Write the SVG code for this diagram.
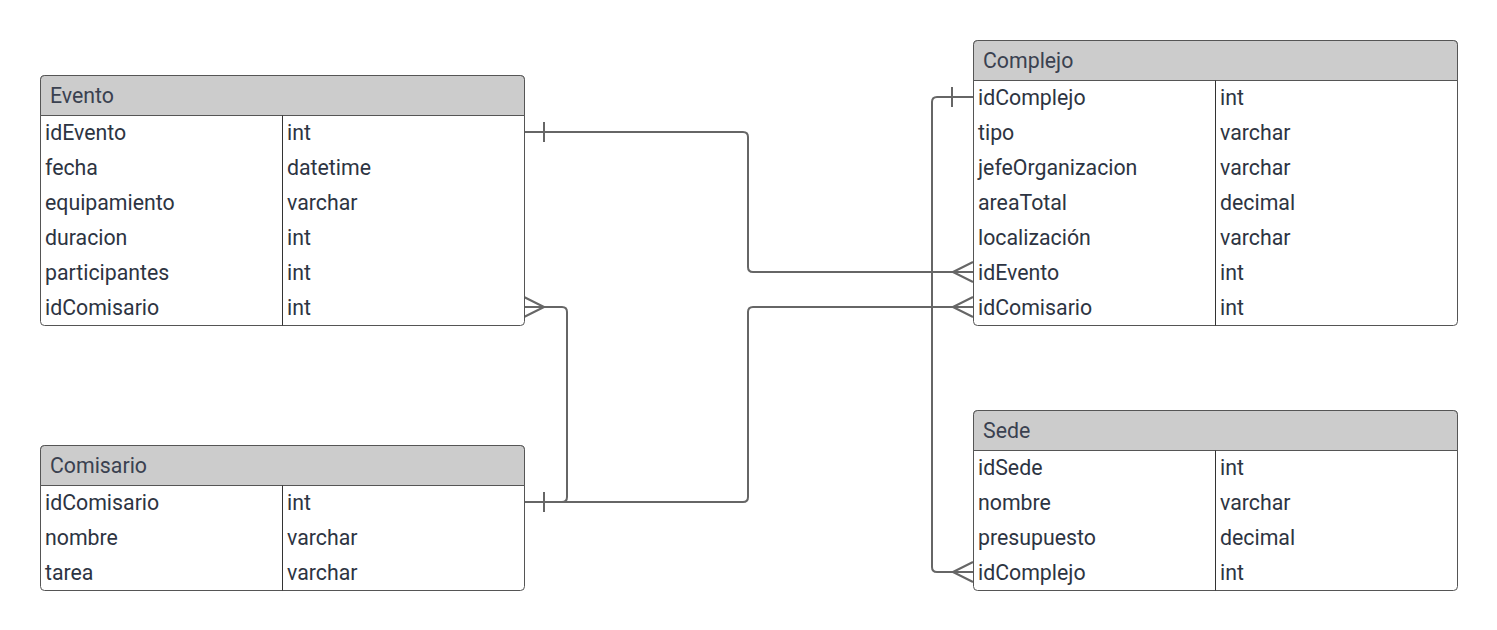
<svg xmlns="http://www.w3.org/2000/svg" width="1497" height="630" viewBox="0 0 1497 630">
  <style>
    .box { fill: #ffffff; stroke: #555555; stroke-width: 1; }
    .head { fill: #cccccc; stroke: #555555; stroke-width: 1; }
    .sep { stroke: #333333; stroke-width: 1; fill: none; }
    .title { font-family: Roboto, "Liberation Sans", sans-serif; font-size: 21.3px; fill: #3a4150; }
    .cell { font-family: Roboto, "Liberation Sans", sans-serif; font-size: 21.3px; fill: #2d3442; }
    .link { fill: none; stroke: #666666; stroke-width: 2; }
  </style>
  <rect width="1497" height="630" fill="#ffffff"/>

  <!-- relationships -->
  <g id="connectors">
    <!-- Evento.idEvento 1 — N Complejo.idEvento -->
    <path class="link" d="M524,132 H743 Q748,132 748,137 V267 Q748,272 753,272 H973"/>
    <path class="link" d="M544,122 V142"/>
    <path class="link" d="M953,272 L973,262 M953,272 L973,282"/>
    <!-- Comisario.idComisario 1 — N Evento.idComisario -->
    <path class="link" d="M524,502 H562 Q567,502 567,497 V312 Q567,307 562,307 H524"/>
    <path class="link" d="M544,307 L524,297 M544,307 L524,317"/>
    <path class="link" d="M544,492 V512"/>
    <!-- Comisario.idComisario 1 — N Complejo.idComisario -->
    <path class="link" d="M524,502 H743 Q748,502 748,497 V312 Q748,307 753,307 H973"/>
    <path class="link" d="M953,307 L973,297 M953,307 L973,317"/>
    <!-- Complejo.idComplejo 1 — N Sede.idComplejo -->
    <path class="link" d="M973,97 H937 Q932,97 932,102 V567 Q932,572 937,572 H973"/>
    <path class="link" d="M952,87 V107"/>
    <path class="link" d="M953,572 L973,562 M953,572 L973,582"/>
  </g>

  <g id="Evento">
    <rect class="box" x="40.5" y="75.5" width="484" height="250" rx="4"/>
    <path class="head" d="M40.5,115.5 V79.5 Q40.5,75.5 44.5,75.5 H520.5 Q524.5,75.5 524.5,79.5 V115.5 Z"/>
    <line class="sep" x1="282.5" y1="115.5" x2="282.5" y2="325.5"/>
    <text class="title" x="50" y="103">Evento</text>
    <text class="cell" x="45" y="140">idEvento</text><text class="cell" x="287" y="140">int</text>
    <text class="cell" x="45" y="175">fecha</text><text class="cell" x="287" y="175">datetime</text>
    <text class="cell" x="45" y="210">equipamiento</text><text class="cell" x="287" y="210">varchar</text>
    <text class="cell" x="45" y="245">duracion</text><text class="cell" x="287" y="245">int</text>
    <text class="cell" x="45" y="280">participantes</text><text class="cell" x="287" y="280">int</text>
    <text class="cell" x="45" y="315">idComisario</text><text class="cell" x="287" y="315">int</text>
  </g>

  <g id="Comisario">
    <rect class="box" x="40.5" y="445.5" width="484" height="145" rx="4"/>
    <path class="head" d="M40.5,485.5 V449.5 Q40.5,445.5 44.5,445.5 H520.5 Q524.5,445.5 524.5,449.5 V485.5 Z"/>
    <line class="sep" x1="282.5" y1="485.5" x2="282.5" y2="590.5"/>
    <text class="title" x="50" y="473">Comisario</text>
    <text class="cell" x="45" y="510">idComisario</text><text class="cell" x="287" y="510">int</text>
    <text class="cell" x="45" y="545">nombre</text><text class="cell" x="287" y="545">varchar</text>
    <text class="cell" x="45" y="580">tarea</text><text class="cell" x="287" y="580">varchar</text>
  </g>

  <g id="Complejo">
    <rect class="box" x="973.5" y="40.5" width="484" height="285" rx="4"/>
    <path class="head" d="M973.5,80.5 V44.5 Q973.5,40.5 977.5,40.5 H1453.5 Q1457.5,40.5 1457.5,44.5 V80.5 Z"/>
    <line class="sep" x1="1215.5" y1="80.5" x2="1215.5" y2="325.5"/>
    <text class="title" x="983" y="68">Complejo</text>
    <text class="cell" x="978" y="105">idComplejo</text><text class="cell" x="1220" y="105">int</text>
    <text class="cell" x="978" y="140">tipo</text><text class="cell" x="1220" y="140">varchar</text>
    <text class="cell" x="978" y="175">jefeOrganizacion</text><text class="cell" x="1220" y="175">varchar</text>
    <text class="cell" x="978" y="210">areaTotal</text><text class="cell" x="1220" y="210">decimal</text>
    <text class="cell" x="978" y="245">localización</text><text class="cell" x="1220" y="245">varchar</text>
    <text class="cell" x="978" y="280">idEvento</text><text class="cell" x="1220" y="280">int</text>
    <text class="cell" x="978" y="315">idComisario</text><text class="cell" x="1220" y="315">int</text>
  </g>

  <g id="Sede">
    <rect class="box" x="973.5" y="410.5" width="484" height="180" rx="4"/>
    <path class="head" d="M973.5,450.5 V414.5 Q973.5,410.5 977.5,410.5 H1453.5 Q1457.5,410.5 1457.5,414.5 V450.5 Z"/>
    <line class="sep" x1="1215.5" y1="450.5" x2="1215.5" y2="590.5"/>
    <text class="title" x="983" y="438">Sede</text>
    <text class="cell" x="978" y="475">idSede</text><text class="cell" x="1220" y="475">int</text>
    <text class="cell" x="978" y="510">nombre</text><text class="cell" x="1220" y="510">varchar</text>
    <text class="cell" x="978" y="545">presupuesto</text><text class="cell" x="1220" y="545">decimal</text>
    <text class="cell" x="978" y="580">idComplejo</text><text class="cell" x="1220" y="580">int</text>
  </g>
</svg>
